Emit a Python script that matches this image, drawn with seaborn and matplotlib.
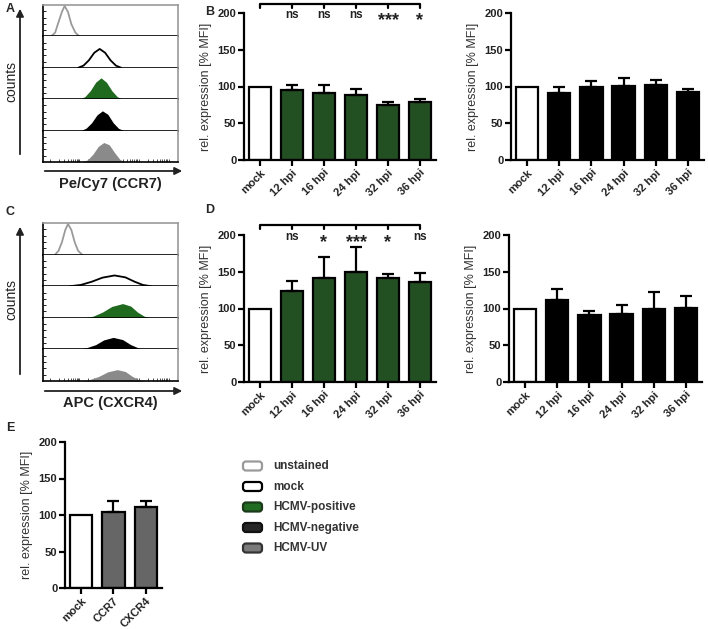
import seaborn as sns
import matplotlib.pyplot as plt
import pandas as pd
import numpy as np
from matplotlib.patches import FancyBboxPatch

sns.set_theme(style="white")
plt.rcParams['font.family'] = ['Liberation Sans', 'DejaVu Sans']

W, H = 708, 629

# ---- bar data ----
hpi_labels = ["mock", "12 hpi", "16 hpi", "24 hpi", "32 hpi", "36 hpi"]

ccr7_pos_mean = [100, 95, 91.5, 88.5, 75.5, 79.5]
ccr7_pos_sd = [0, 7, 10.5, 8, 4, 3]
ccr7_neg_mean = [100, 91.5, 100, 100.5, 101.5, 92.5]
ccr7_neg_sd = [0, 7.5, 7, 11, 8, 3.5]
ccr7_sig = ["", "ns", "ns", "ns", "***", "*"]

cxcr4_pos_mean = [100, 123.5, 142, 149, 141.5, 136]
cxcr4_pos_sd = [0, 14, 27.5, 34, 5.5, 12]
cxcr4_neg_mean = [100, 112, 91.5, 93, 99, 100.5]
cxcr4_neg_sd = [0, 14.5, 4.5, 12, 23, 16]
cxcr4_sig = ["", "ns", "*", "***", "*", "ns"]

uv_labels = ["mock", "CCR7", "CXCR4"]
uv_mean = [100, 103.5, 110.5]
uv_sd = [0, 16, 9]

# ---- histogram profiles (x: fraction of axis, y: fraction of lane height) ----
ccr7_unst_x = [0.06, 0.09, 0.11, 0.14, 0.16, 0.185, 0.21, 0.24, 0.27]
ccr7_unst_y = [0, 0.12, 0.39, 0.78, 0.97, 0.78, 0.39, 0.12, 0]
ccr7_mock_x = [0.26, 0.30, 0.34, 0.38, 0.42, 0.46, 0.50, 0.54, 0.58]
ccr7_mock_y = [0, 0.07, 0.24, 0.48, 0.60, 0.48, 0.24, 0.07, 0]
ccr7_pos_x = [0.27, 0.31, 0.35, 0.39, 0.43, 0.47, 0.51, 0.55, 0.59]
ccr7_pos_y = [0, 0.08, 0.27, 0.54, 0.68, 0.54, 0.27, 0.08, 0]
ccr7_neg_x = [0.28, 0.32, 0.36, 0.40, 0.44, 0.48, 0.52, 0.56, 0.60]
ccr7_neg_y = [0, 0.08, 0.25, 0.50, 0.63, 0.52, 0.25, 0.07, 0]
ccr7_uv_x = [0.29, 0.33, 0.37, 0.41, 0.45, 0.49, 0.53, 0.57, 0.61]
ccr7_uv_y = [0, 0.07, 0.25, 0.50, 0.62, 0.55, 0.30, 0.08, 0]

cxcr4_unst_x = [0.09, 0.115, 0.14, 0.165, 0.185, 0.21, 0.235, 0.26, 0.29]
cxcr4_unst_y = [0, 0.12, 0.39, 0.78, 0.97, 0.78, 0.39, 0.12, 0]
cxcr4_mock_x = [0.20, 0.28, 0.36, 0.44, 0.53, 0.61, 0.68, 0.74, 0.80]
cxcr4_mock_y = [0, 0.04, 0.14, 0.27, 0.34, 0.28, 0.14, 0.04, 0]
cxcr4_pos_x = [0.30, 0.37, 0.44, 0.51, 0.59, 0.65, 0.70, 0.75, 0.80]
cxcr4_pos_y = [0, 0.05, 0.18, 0.36, 0.45, 0.37, 0.18, 0.05, 0]
cxcr4_neg_x = [0.25, 0.32, 0.39, 0.45, 0.52, 0.59, 0.65, 0.71, 0.77]
cxcr4_neg_y = [0, 0.05, 0.15, 0.30, 0.38, 0.31, 0.15, 0.04, 0]
cxcr4_uv_x = [0.27, 0.34, 0.41, 0.48, 0.55, 0.61, 0.66, 0.71, 0.76]
cxcr4_uv_y = [0, 0.04, 0.14, 0.29, 0.36, 0.30, 0.15, 0.04, 0]

GREEN = "#1b581b"
HGREEN = "#1f6a1f"
GRAY_UV = "#8a8a8a"
E_GRAY = "#666666"

legend_labels = ["unstained", "mock", "HCMV-positive", "HCMV-negative", "HCMV-UV"]
legend_face = ["white", "white", "#226b22", "#262626", "#7a7a7a"]
legend_edge = ["#9a9a9a", "black", "#1a3a1a", "#111111", "#333333"]

fig = plt.figure(figsize=(W / 100, H / 100), dpi=100)


def rect(l, t, r, b):
    return [l / W, 1 - b / H, (r - l) / W, (b - t) / H]


def bar_panel(box, labels, means, sds, fill, sig=None, bracket=None):
    ax = fig.add_axes(rect(*box))
    df = pd.DataFrame({"cond": labels, "val": means})
    colors = ["white"] + [fill] * (len(labels) - 1)
    sns.barplot(data=df, x="cond", y="val", hue="cond", palette=colors,
                width=0.69, edgecolor="black", linewidth=1.6, dodge=False,
                legend=False, ax=ax)
    idx = [i for i, s in enumerate(sds) if s > 0]
    ax.errorbar(idx, [means[i] for i in idx],
                yerr=[[0] * len(idx), [sds[i] for i in idx]],
                fmt="none", ecolor="black", elinewidth=1.6, capsize=4,
                capthick=1.6, zorder=1)
    ax.set_ylim(0, 200)
    ax.set_xlim(-0.5, len(labels) - 0.5)
    ax.set_yticks([0, 50, 100, 150, 200])
    sns.despine(ax=ax)
    for s in ["left", "bottom"]:
        ax.spines[s].set_linewidth(1.6)
        ax.spines[s].set_color("black")
    ax.tick_params(direction="out", length=4, width=1.6, labelsize=8,
                   pad=1.5, colors="black", left=True, bottom=True)
    ax.set_xticks(range(len(labels)))
    ax.set_xticklabels(labels, rotation=45, ha="right", rotation_mode="anchor")
    for t in ax.get_xticklabels() + ax.get_yticklabels():
        t.set_fontweight("bold")
        t.set_color("#222222")
    ax.set_xlabel("")
    ax.set_ylabel("rel. expression [% MFI]", fontsize=9, color="#333333",
                  labelpad=4)
    if sig is not None:
        n = len(labels)
        ax.plot([0, n - 1], [bracket, bracket], color="black", lw=1.6,
                clip_on=False, solid_capstyle="butt")
        for i in range(n):
            ax.plot([i, i], [bracket, bracket - 5.5], color="black", lw=1.6,
                    clip_on=False)
        for i, s in enumerate(sig):
            if not s:
                continue
            if "*" in s:
                ax.text(i, 189, s, ha="center", va="center", fontsize=13,
                        fontweight="bold", clip_on=False, color="#222222")
            else:
                ax.text(i, 197, s, ha="center", va="center", fontsize=8.5,
                        fontweight="bold", clip_on=False, color="#222222")
    return ax


def hist_panel(box, profiles):
    l, t, r, b = box
    lane = (b - t) / 5
    for k, (xs, ys, kind, color) in enumerate(profiles):
        ax = fig.add_axes(rect(l, t + k * lane, r, t + (k + 1) * lane))
        ax.set_xlim(0, 1)
        ax.set_ylim(0, 1)
        if kind == "line":
            ax.plot(xs, ys, color=color, lw=1.3)
        else:
            ax.fill_between(xs, 0, ys, color=color, lw=0)
        for s in ["left", "bottom"]:
            ax.spines[s].set_color("black")
            ax.spines[s].set_linewidth(1.2)
        ax.spines["right"].set_color("#9a9a9a")
        ax.spines["right"].set_linewidth(1.2)
        ax.spines["top"].set_color("#9a9a9a")
        ax.spines["top"].set_linewidth(1.2)
        ax.spines["top"].set_visible(k == 0)
        ax.set_yticks([0.2, 0.4, 0.6, 0.8])
        ax.tick_params(axis="y", direction="in", length=2, width=0.6,
                       labelleft=False, left=True, colors="black")
        if k == 4:
            major = [0.05, 0.27, 0.49, 0.71, 0.93]
            minor = [d + 0.22 * np.log10(m) for d in major[:-1]
                     for m in range(2, 10)]
            ax.set_xticks(major)
            ax.set_xticks(minor, minor=True)
            ax.tick_params(axis="x", which="both", direction="in", length=2,
                           width=0.6, labelbottom=False, bottom=True,
                           colors="#333333")
        else:
            ax.set_xticks([])


bar_panel((244, 13, 436, 160), hpi_labels, ccr7_pos_mean, ccr7_pos_sd, GREEN,
          ccr7_sig, 212)
bar_panel((511, 13, 704, 160), hpi_labels, ccr7_neg_mean, ccr7_neg_sd, "black")
bar_panel((244, 235, 436, 382), hpi_labels, cxcr4_pos_mean, cxcr4_pos_sd,
          GREEN, cxcr4_sig, 213)
bar_panel((509, 235, 702, 382), hpi_labels, cxcr4_neg_mean, cxcr4_neg_sd,
          "black")
bar_panel((65, 442, 162, 588), uv_labels, uv_mean, uv_sd, E_GRAY)

hist_panel((43, 5, 178, 162), [
    (ccr7_unst_x, ccr7_unst_y, "line", "#9a9a9a"),
    (ccr7_mock_x, ccr7_mock_y, "line", "black"),
    (ccr7_pos_x, ccr7_pos_y, "fill", HGREEN),
    (ccr7_neg_x, ccr7_neg_y, "fill", "black"),
    (ccr7_uv_x, ccr7_uv_y, "fill", GRAY_UV),
])
hist_panel((43, 223, 178, 381), [
    (cxcr4_unst_x, cxcr4_unst_y, "line", "#9a9a9a"),
    (cxcr4_mock_x, cxcr4_mock_y, "line", "black"),
    (cxcr4_pos_x, cxcr4_pos_y, "fill", HGREEN),
    (cxcr4_neg_x, cxcr4_neg_y, "fill", "black"),
    (cxcr4_uv_x, cxcr4_uv_y, "fill", GRAY_UV),
])

# ---- overlay for labels, arrows and legend (pixel coordinates) ----
ov = fig.add_axes([0, 0, 1, 1], zorder=-1)
ov.set_xlim(0, W)
ov.set_ylim(H, 0)
ov.axis("off")

for lbl, x, y in [("A", 6, 9), ("B", 205, 12), ("C", 6, 212),
                  ("D", 205, 210), ("E", 6, 428)]:
    ov.text(x, y, lbl, fontsize=9, fontweight="bold", ha="left", va="center")

arrow = dict(arrowstyle="-|>", color="#222222", lw=1.3, mutation_scale=11)
ov.annotate("", xy=(20, 6), xytext=(20, 157), arrowprops=arrow)
ov.annotate("", xy=(20, 224), xytext=(20, 377), arrowprops=arrow)
ov.annotate("", xy=(185, 171), xytext=(42, 171), arrowprops=arrow)
ov.annotate("", xy=(185, 391), xytext=(42, 391), arrowprops=arrow)
ov.text(11, 82, "counts", rotation=90, ha="center", va="center", fontsize=10,
        color="#222222")
ov.text(11, 300, "counts", rotation=90, ha="center", va="center", fontsize=10,
        color="#222222")
ov.text(110, 184, "Pe/Cy7 (CCR7)", ha="center", va="center", fontsize=10.5,
        fontweight="bold", color="#222222")
ov.text(110, 403, "APC (CXCR4)", ha="center", va="center", fontsize=10.5,
        fontweight="bold", color="#222222")

for i, (lab, fc, ec) in enumerate(zip(legend_labels, legend_face, legend_edge)):
    yc = 466 + i * 20.5
    ov.add_patch(FancyBboxPatch((243, yc - 4.5), 19, 9,
                                boxstyle="round,pad=0,rounding_size=3",
                                fc=fc, ec=ec, lw=1.6))
    ov.text(273, yc, lab, ha="left", va="center", fontsize=8.5,
            fontweight="bold", color="#333333")

fig.savefig("out.png", dpi=100)
plt.close(fig)
